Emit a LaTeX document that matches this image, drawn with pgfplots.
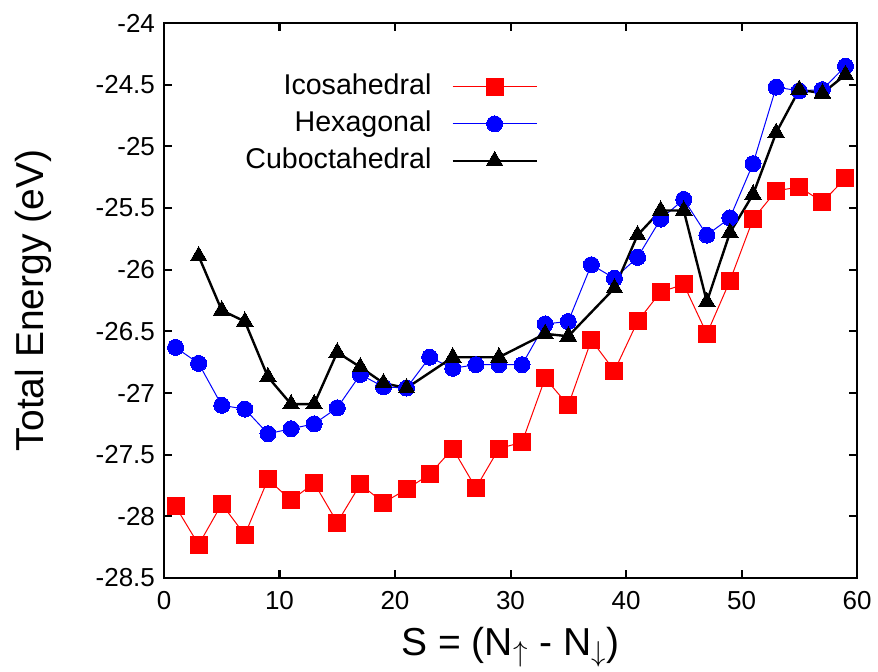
\documentclass[border=0pt]{standalone}
\usepackage{pgfplots}
\pgfplotsset{compat=1.18}
\usepackage{fontspec}
\setmainfont{Liberation Sans}

% total energy versus spin multiplicity for three cluster geometries
\pgfplotstableread{
S E
1 -27.92
3 -28.23
5 -27.90
7 -28.15
9 -27.70
11 -27.87
13 -27.73
15 -28.05
17 -27.74
19 -27.89
21 -27.78
23 -27.66
25 -27.45
27 -27.77
29 -27.45
31 -27.40
33 -26.88
35 -27.10
37 -26.57
39 -26.82
41 -26.42
43 -26.18
45 -26.12
47 -26.52
49 -26.09
51 -25.59
53 -25.36
55 -25.33
57 -25.45
59 -25.26
}\icosa

\pgfplotstableread{
S E
1 -26.63
3 -26.76
5 -27.10
7 -27.13
9 -27.33
11 -27.29
13 -27.25
15 -27.12
17 -26.85
19 -26.95
21 -26.96
23 -26.71
25 -26.80
27 -26.77
29 -26.77
31 -26.77
33 -26.44
35 -26.42
37 -25.96
39 -26.07
41 -25.90
43 -25.59
45 -25.43
47 -25.72
49 -25.58
51 -25.14
53 -24.52
55 -24.55
57 -24.54
59 -24.35
}\hexa

\pgfplotstableread{
S E
3 -25.89
5 -26.33
7 -26.42
9 -26.87
11 -27.09
13 -27.09
15 -26.67
17 -26.79
19 -26.92
21 -26.96
25 -26.71
29 -26.71
33 -26.52
35 -26.54
39 -26.15
41 -25.72
43 -25.52
45 -25.52
47 -26.26
49 -25.70
51 -25.39
53 -24.89
55 -24.54
57 -24.57
59 -24.42
}\cubo

\begin{document}
\begin{tikzpicture}
\begin{axis}[
  at={(0,0)}, anchor=south west,
  scale only axis, width=346.5pt, height=277.5pt,
  xmin=0, xmax=60, ymin=-28.5, ymax=-24,
  xtick={0,10,...,60},
  ytick={-28.5,-28,-27.5,-27,-26.5,-26,-25.5,-25,-24.5,-24},
  tick align=inside, major tick length=4pt,
  axis line style={line width=1pt},
  every tick/.style={line width=1pt, black},
  /pgf/number format/assume math mode=true,
  /pgf/number format/fixed,
  tick label style={font=\fontsize{13}{15}\selectfont},
  xticklabel style={yshift=-3pt},
  yticklabel style={xshift=-1pt},
  xlabel={S = (N$_{\uparrow}$ - N$_{\downarrow}$)},
  ylabel={Total Energy (eV)},
  label style={font=\fontsize{19.5}{22}\selectfont},
  xlabel style={at={([yshift=-38.5pt]axis description cs:0.5,0)}, anchor=base},
  ylabel style={at={([xshift=-65.5pt]axis description cs:0,0.5)}, anchor=center},
  legend plot pos=right,
  legend cell align=right,
  legend style={draw=none, fill=none, at={(axis description cs:0.54,0.91)},
    anchor=north east, inner sep=0pt, font=\fontsize{14.3}{16}\selectfont,
    nodes={inner sep=0pt, text height=10.5pt, text depth=3pt},
    row sep=5pt, /tikz/column sep=10pt},
  legend image code/.code={%
    \draw[mark repeat=2, mark phase=2] plot coordinates {(0pt,0pt) (21pt,0pt) (42pt,0pt)};},
]
\addplot[red, line width=0.5pt, mark=square*, mark size=4.25pt,
  mark options={solid, fill=red, line width=0pt}] table[x=S, y=E] {\icosa};
\addlegendentry{Icosahedral}
\addplot[blue, line width=0.5pt, mark=*, mark size=4pt,
  mark options={solid, fill=blue, line width=0pt}] table[x=S, y=E] {\hexa};
\addlegendentry{Hexagonal}
\addplot[black, line width=1.2pt, mark=triangle*, mark size=4.8pt,
  mark options={solid, fill=black, line width=0pt}] table[x=S, y=E] {\cubo};
\addlegendentry{Cuboctahedral}
\end{axis}
\pgfresetboundingbox
\path (-82pt,-46.5pt) rectangle (357pt,289pt);
\end{tikzpicture}
\end{document}
